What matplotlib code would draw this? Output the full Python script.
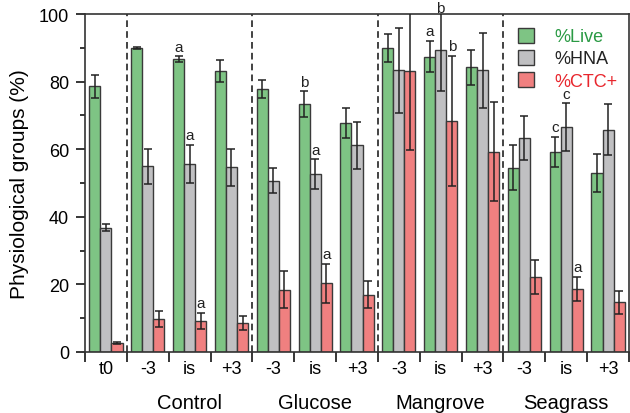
import matplotlib.pyplot as plt
import matplotlib.transforms as mtransforms
import numpy as np

# ------------------------------------
# Data
# ------------------------------------
tick_labels = ['t0', '-3', 'is', '+3', '-3', 'is', '+3',
               '-3', 'is', '+3', '-3', 'is', '+3']
treatments = ['Control', 'Glucose', 'Mangrove', 'Seagrass']
treatment_groups = [[1, 2, 3], [4, 5, 6], [7, 8, 9], [10, 11, 12]]

live = [78.6, 89.8, 86.7, 83.1, 77.8, 73.3, 67.8, 89.9, 87.4, 84.2, 54.5, 59.2, 53.0]
live_err = [3.4, 0.3, 0.8, 3.3, 2.6, 3.8, 4.4, 4.1, 4.6, 5.1, 6.7, 4.5, 5.7]
hna = [36.8, 54.9, 55.6, 54.7, 50.7, 52.6, 61.1, 83.3, 89.4, 83.3, 63.3, 66.5, 65.8]
hna_err = [1.1, 5.3, 5.7, 5.5, 3.8, 4.4, 7.0, 12.6, 12.3, 11.2, 6.4, 7.1, 7.5]
ctc = [2.7, 9.7, 9.2, 8.6, 18.4, 20.3, 16.9, 83.0, 68.4, 59.3, 22.1, 18.6, 14.7]
ctc_err = [0.2, 2.4, 2.4, 2.1, 5.5, 5.7, 4.0, 23.2, 19.3, 14.6, 5.0, 3.6, 3.4]

# significance letters: (group index, series, letter)
sig_letters = [(2, 0, 'a'), (2, 1, 'a'), (2, 2, 'a'),
               (5, 0, 'b'), (5, 1, 'a'), (5, 2, 'a'),
               (8, 0, 'a'), (8, 1, 'b'), (8, 2, 'b'),
               (11, 0, 'c'), (11, 1, 'c'), (11, 2, 'a')]

series = [
    ('%Live', live, live_err, '#7ec484', '#2a9a44'),
    ('%HNA', hna, hna_err, '#c0c0c2', '#222222'),
    ('%CTC+', ctc, ctc_err, '#f08080', '#e8262d'),
]

# ------------------------------------
# Figure Setup
# ------------------------------------
plt.rcParams['font.family'] = ['Liberation Sans', 'DejaVu Sans']
fig = plt.figure(figsize=(6.3, 4.14), dpi=100)
ax = fig.add_axes([85 / 630, 1 - 353 / 414, 544 / 630, 338 / 414])

x = np.arange(len(tick_labels))
width = 0.265
offsets = [-width, 0, width]

for (name, vals, errs, color, _), off in zip(series, offsets):
    ax.bar(x + off, vals, width, color=color, edgecolor='#3a3a3a',
           linewidth=1.0, label=name, zorder=2)
    ax.errorbar(x + off, vals, yerr=errs, fmt='none', ecolor='#222222',
                elinewidth=1.1, capsize=3, capthick=1.1, zorder=3)

# letters sit just above the error bar (or just above the frame if clipped)
for gi, si, letter in sig_letters:
    name, vals, errs, _, _ = series[si]
    ypos = min(vals[gi] + errs[gi] + 0.8, 99.6)
    ax.text(x[gi] + offsets[si], ypos, letter,
            ha='center', va='bottom', fontsize=11, color='#222222')

# dashed separators between treatments
for b in [0.5, 3.5, 6.5, 9.5]:
    ax.axvline(b, color='#222222', linestyle=(0, (4, 2.5)), linewidth=1.2, zorder=1)

ax.set_xlim(-0.5, 12.5)
ax.set_ylim(0, 100)

ax.set_xticks(x)
ax.set_xticklabels(tick_labels, fontsize=13)
ax.set_xticks(np.arange(-0.5, 13, 1), minor=True)
ax.tick_params(axis='x', which='major', length=0, pad=6)
ax.tick_params(axis='x', which='minor', length=7, width=1.1, direction='out')

ax.set_yticks(np.arange(0, 101, 20))
ax.set_yticks(np.arange(10, 100, 20), minor=True)
ax.tick_params(axis='y', which='major', length=6.5, width=1.1, labelsize=13, pad=5)
ax.tick_params(axis='y', which='minor', length=3.5, width=1.1)

for sp in ax.spines.values():
    sp.set_linewidth(1.2)
    sp.set_color('#333333')

# treatment labels under tick labels
trans = mtransforms.blended_transform_factory(ax.transData, fig.transFigure)
for name, idx in zip(treatments, treatment_groups):
    ax.text(np.mean(x[idx]), 1 - 409 / 414, name, transform=trans,
            ha='center', va='baseline', fontsize=14.5)

fig.text(20 / 630, 1 - 184 / 414, 'Physiological groups (%)', rotation=90,
         ha='center', va='center', fontsize=15)

leg = ax.legend(loc='upper left', bbox_to_anchor=(0.796, 0.96), frameon=False,
                fontsize=13, handlelength=0.9, handleheight=0.9,
                handletextpad=1.1, labelspacing=0.25, borderpad=0,
                borderaxespad=0)
for txt, s in zip(leg.get_texts(), series):
    txt.set_color(s[4])

fig.savefig('out.png', dpi=100)
